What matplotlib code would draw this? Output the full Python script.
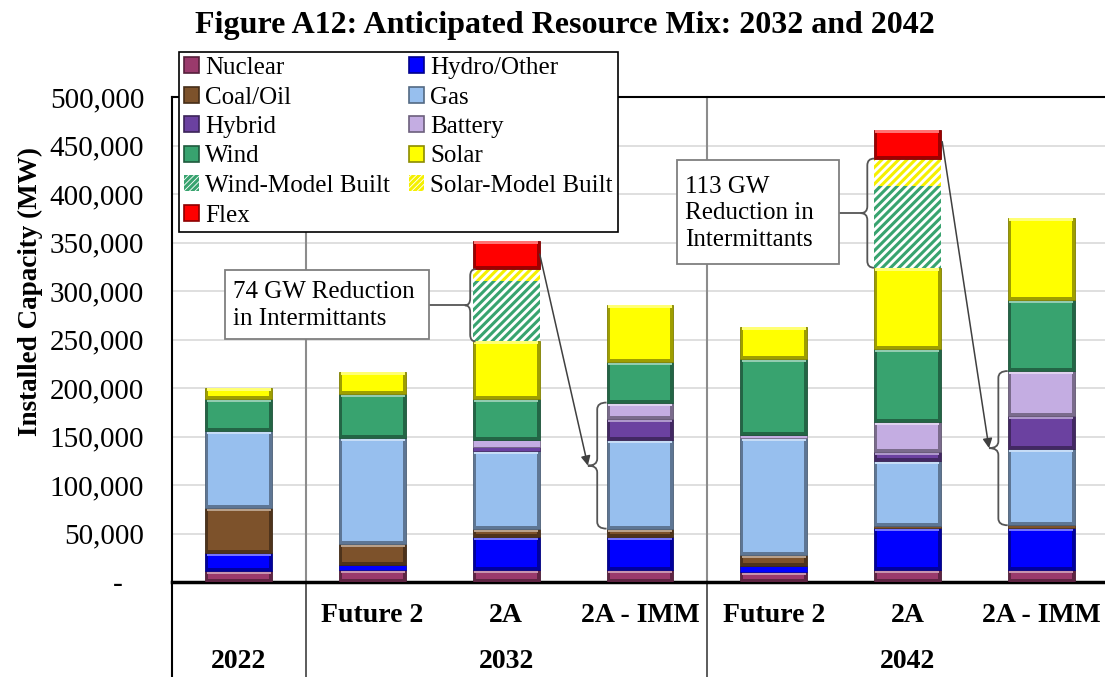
import numpy as np
import matplotlib.pyplot as plt
from matplotlib.path import Path
from matplotlib.patches import PathPatch, Patch, Rectangle
import matplotlib.colors as mcolors
import matplotlib.transforms as mtransforms

plt.rcParams['font.family'] = ['Liberation Serif', 'DejaVu Serif']
plt.rcParams['hatch.linewidth'] = 2.2

# Data (MW)
scenarios = ['2022', 'Future 2', '2A', '2A - IMM', 'Future 2', '2A', '2A - IMM']
years = ['2022', '2032', '2042']
year_pos = [0, 2, 5]

nuclear = [11000, 12000, 12000, 12000, 10000, 12000, 12000]
hydro = [18500, 5500, 34000, 34000, 7000, 43500, 43500]
coal = [47000, 21500, 9000, 9000, 11000, 2500, 3000]
gas = [79000, 109000, 80000, 91000, 120000, 67000, 79000]
hybrid = [0, 0, 4500, 22000, 0, 9000, 34000]
battery = [0, 0, 6500, 17000, 4000, 31000, 46000]
wind = [33000, 45500, 43000, 42000, 78000, 75000, 73000]
solar = [12000, 23500, 59000, 58500, 33000, 84000, 85000]
wind_mb = [0, 0, 62000, 0, 0, 84500, 0]
solar_mb = [0, 0, 12500, 0, 0, 28000, 0]
flex = [0, 0, 29000, 0, 0, 29500, 0]

series = [
    ('Nuclear', nuclear, '#9a3a6c', None),
    ('Hydro/Other', hydro, '#0000ff', None),
    ('Coal/Oil', coal, '#7d522b', None),
    ('Gas', gas, '#97bfee', None),
    ('Hybrid', hybrid, '#6b41a0', None),
    ('Battery', battery, '#c4ade2', None),
    ('Wind', wind, '#38a36f', None),
    ('Solar', solar, '#ffff00', None),
    ('Wind-Model Built', wind_mb, '#38a36f', '////'),
    ('Solar-Model Built', solar_mb, '#f5f000', '////'),
    ('Flex', flex, '#ff0000', None),
]

fig = plt.figure(figsize=(11.05, 6.77), dpi=100)
ax = fig.add_axes([172 / 1105, 95 / 677, 936 / 1105, 485 / 677])

x = np.arange(len(scenarios))
W = 0.5
dx = 3 / 134      # bevel width (about 3 px)
dy = 3100         # bevel height (about 3 px)


def shade(c, f):
    r, g, b = mcolors.to_rgb(c)
    return (r * f, g * f, b * f)


def tint(c, f):
    r, g, b = mcolors.to_rgb(c)
    return (r + (1 - r) * f, g + (1 - g) * f, b + (1 - b) * f)


bottom = np.zeros(len(scenarios))
handles = {}
for name, vals, col, hatch in series:
    vals = np.array(vals, dtype=float)
    for i in range(len(x)):
        h = vals[i]
        if h <= 0:
            continue
        b = bottom[i]
        if hatch:
            ax.bar(x[i], h, W, bottom=b, color='white', edgecolor=col,
                   hatch=hatch, linewidth=0, zorder=3)
        elif h > 2.5 * dy:
            ax.bar(x[i], h, W, bottom=b, color=shade(col, 0.62),
                   edgecolor=shade(col, 0.5), linewidth=0.6, zorder=3)
            ax.bar(x[i], dy, W - dx, bottom=b + h - dy, color=tint(col, 0.45),
                   linewidth=0, zorder=3)
            ax.bar(x[i], h - 2 * dy, W - 2 * dx, bottom=b + dy, color=col,
                   linewidth=0, zorder=3)
        else:
            ax.bar(x[i], h, W, bottom=b, color=col,
                   edgecolor=shade(col, 0.6), linewidth=0.6, zorder=3)
    if hatch:
        handles[name] = Patch(facecolor='white', edgecolor=col, hatch='//////', linewidth=0)
    else:
        handles[name] = Patch(facecolor=col, edgecolor=shade(col, 0.55), linewidth=1.2)
    bottom += vals

ax.set_xlim(-0.5, 6.5)
ax.set_ylim(0, 500000)
ax.set_yticks(np.arange(0, 500001, 50000))
ax.set_yticklabels(['-   '] + ['{:,}'.format(v) for v in range(50000, 500001, 50000)],
                   fontsize=21)
ax.tick_params(axis='y', length=0, pad=20)
ax.set_xticks([])
ax.grid(axis='y', color='#d9d9d9', linewidth=1.2, zorder=0)
ax.set_axisbelow(True)
for s in ['left', 'top', 'bottom']:
    ax.spines[s].set_color('black')
    ax.spines[s].set_linewidth(1.5)
ax.spines['bottom'].set_linewidth(2.5)
ax.spines['right'].set_visible(False)

# category table under the axis
tr = mtransforms.blended_transform_factory(ax.transData, ax.transAxes)
ybot = -97 / 485
ax.plot([-0.5, -0.5], [0, ybot], color='black', lw=1.5, transform=tr, clip_on=False)
for xs in [0.5, 3.5]:
    ax.plot([xs, xs], [1, 0], color='#8c8c8c', lw=1.5, transform=tr, clip_on=False, zorder=2)
    ax.plot([xs, xs], [0, ybot], color='#404040', lw=1.2, transform=tr, clip_on=False)
for i, s in enumerate(scenarios):
    if s == '2022':
        continue
    ax.text(i, -33 / 485, s, transform=tr, ha='center', va='center',
            fontsize=20, fontweight='bold')
for p, yl in zip(year_pos, years):
    ax.text(p, -80 / 485, yl, transform=tr, ha='center', va='center',
            fontsize=20, fontweight='bold')

# cumulative stack levels used for the braces
cum = np.cumsum([np.array(v, dtype=float) for _, v, _, _ in series], axis=0)
lvl = {name: cum[k] for k, (name, _, _, _) in enumerate(series)}


def brace(x_tip, x_end, y0, y1, y_tip, r=7000):
    xm = (x_tip + x_end) / 2
    verts = [(x_end, y1), (xm, y1), (xm, y1 - r),
             (xm, y_tip + r), (xm, y_tip), (x_tip, y_tip),
             (xm, y_tip), (xm, y_tip - r),
             (xm, y0 + r), (xm, y0), (x_end, y0)]
    codes = [Path.MOVETO, Path.CURVE3, Path.CURVE3,
             Path.LINETO, Path.CURVE3, Path.CURVE3,
             Path.CURVE3, Path.CURVE3,
             Path.LINETO, Path.CURVE3, Path.CURVE3]
    ax.add_patch(PathPatch(Path(verts, codes), fc='none', ec='#555555', lw=1.3, zorder=5))


# 2032 reduction
y0, y1 = lvl['Solar'][2], lvl['Solar-Model Built'][2]
tip1 = (y0 + y1) / 2
brace(1.69, 1.77, y0, y1, tip1)
ax.add_patch(Rectangle((-0.105, 250500), 1.53, 71000, fc='white', ec='#7f7f7f', lw=1.3, zorder=6))
ax.text(-0.045, 285000, '74 GW Reduction\nin Intermittants', fontsize=18, ha='left',
        va='center', linespacing=1.25, zorder=7)
ax.plot([1.425, 1.69], [tip1, tip1], color='#555555', lw=1.3, zorder=5)

y0, y1 = lvl['Gas'][3] - gas[3], lvl['Battery'][3]
tip2 = (y0 + y1) / 2
brace(2.61, 2.75, y0, y1, tip2)
ax.annotate('', xy=(2.61, tip2), xytext=(2.25, 338000),
            arrowprops=dict(arrowstyle='-|>', color='#404040', lw=1.1,
                            mutation_scale=14, shrinkA=0, shrinkB=0), zorder=6)

# 2042 reduction
y0, y1 = lvl['Solar'][5], lvl['Solar-Model Built'][5]
tip3 = (y0 + y1) / 2
brace(4.65, 4.75, y0, y1, tip3)
ax.add_patch(Rectangle((3.275, 327800), 1.21, 107000, fc='white', ec='#7f7f7f', lw=1.3, zorder=6))
ax.text(3.335, 380000, '113 GW\nReduction in\nIntermittants', fontsize=18, ha='left',
        va='center', linespacing=1.25, zorder=7)
ax.plot([4.485, 4.65], [tip3, tip3], color='#555555', lw=1.3, zorder=5)

y0, y1 = lvl['Gas'][6] - gas[6], lvl['Battery'][6]
tip4 = (y0 + y1) / 2
brace(5.61, 5.75, y0, y1, tip4)
ax.annotate('', xy=(5.61, tip4), xytext=(5.26, 454000),
            arrowprops=dict(arrowstyle='-|>', color='#404040', lw=1.1,
                            mutation_scale=14, shrinkA=0, shrinkB=0), zorder=6)

# legend (row order Nuclear, Hydro/Other, ... as in the reference)
order = ['Nuclear', 'Coal/Oil', 'Hybrid', 'Wind', 'Wind-Model Built', 'Flex',
         'Hydro/Other', 'Gas', 'Battery', 'Solar', 'Solar-Model Built']
leg = fig.legend([handles[n] for n in order], order, ncol=2, loc='upper left',
                 bbox_to_anchor=(179 / 1105, 1 - 52 / 677), borderaxespad=0,
                 fontsize=18, frameon=True, fancybox=False, edgecolor='black',
                 framealpha=1, handlelength=0.6, handleheight=0.6,
                 handletextpad=0.25, columnspacing=0.75, labelspacing=0.3,
                 borderpad=0.2)
leg.get_frame().set_linewidth(1.2)
leg.set_zorder(10)

fig.text(565 / 1105, 1 - 25 / 677, 'Figure A12: Anticipated Resource Mix: 2032 and 2042',
         ha='center', va='center', fontsize=23, fontweight='bold')
fig.text(30 / 1105, 1 - 292 / 677, 'Installed Capacity (MW)', rotation=90,
         ha='center', va='center', fontsize=19.5, fontweight='bold')

fig.savefig('out.png', dpi=100)
